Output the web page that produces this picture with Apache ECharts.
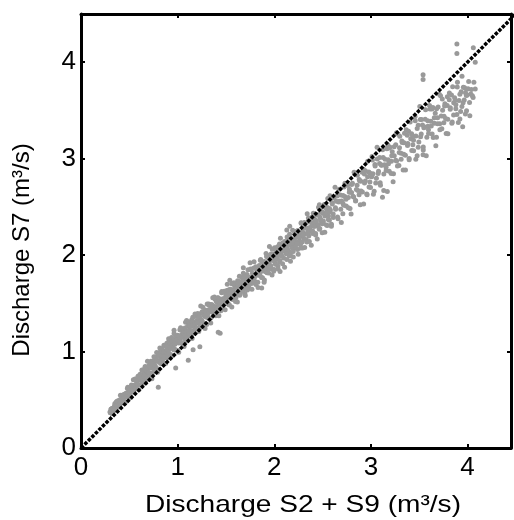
<!DOCTYPE html>
<html>
<head>
<meta charset="utf-8">
<script src="https://cdn.jsdelivr.net/npm/echarts@6/dist/echarts.min.js"></script>
<style>html,body{margin:0;padding:0;background:#fff;}#c{width:514px;height:520px;}</style>
</head>
<body>
<div id="c"></div>
<script>
// Axis ticks and titles
const xTicks = [0, 1, 2, 3, 4];
const yTicks = [0, 1, 2, 3, 4];
const xTitle = 'Discharge S2 + S9 (m\u00b3/s)';
const yTitle = 'Discharge S7 (m\u00b3/s)';
// 1:1 reference line
const oneToOne = [[0, 0], [4.5, 4.5]];

// [S2+S9 discharge, S7 discharge] pairs
const lowFlow = [
[0.300,0.374],[0.308,0.365],[0.313,0.405],[0.323,0.392],[0.329,0.413],[0.338,0.385],[0.345,0.422],[0.349,0.443],[0.360,0.425],[0.366,0.480],
[0.375,0.428],[0.380,0.467],[0.385,0.459],[0.395,0.494],[0.401,0.436],[0.410,0.503],[0.417,0.479],[0.421,0.540],[0.432,0.513],[0.438,0.552],
[0.447,0.491],[0.452,0.544],[0.462,0.566],[0.468,0.539],[0.477,0.530],[0.484,0.630],[0.488,0.577],[0.499,0.527],[0.505,0.620],[0.514,0.579],
[0.522,0.652],[0.527,0.611],[0.537,0.647],[0.543,0.579],[0.552,0.651],[0.559,0.715],[0.563,0.622],[0.574,0.668],[0.580,0.660],[0.589,0.741],
[0.597,0.703],[0.602,0.657],[0.612,0.765],[0.618,0.707],[0.627,0.752],[0.634,0.664],[0.638,0.740],[0.649,0.792],[0.655,0.727],[0.664,0.845],
[0.672,0.718],[0.677,0.795],[0.687,0.775],[0.693,0.832],[0.702,0.711],[0.709,0.834],[0.713,0.778],[0.724,0.899],[0.730,0.831],[0.739,0.900],
[0.746,0.784],[0.750,0.871],[0.761,0.902],[0.767,0.854],[0.776,0.832],[0.783,0.990],[0.787,0.904],[0.798,0.819],[0.804,0.960],[0.813,0.892],
[0.821,0.998],[0.826,0.933],[0.836,0.981],[0.842,0.880],[0.851,0.979],[0.858,1.066],[0.862,0.933],[0.873,0.992],[0.879,0.979],[0.888,1.086],
[0.896,1.030],[0.901,0.967],[0.911,1.107],[0.917,1.027],[0.926,1.083],[0.933,0.967],[0.937,1.063],[0.948,1.126],[0.954,1.042],[0.963,1.186],
[0.971,1.025],[0.976,1.119],[0.986,1.093],[0.992,1.159],[1.001,1.012],[1.008,1.156],[1.012,1.088],[1.023,1.226],[1.029,1.144],[1.038,1.220],
[1.045,1.084],[1.049,1.182],[1.060,1.214],[1.066,1.156],[1.075,1.130],[1.082,1.304],[1.086,1.205],[1.097,1.110],[1.103,1.263],[1.112,1.186],
[1.120,1.298],[1.125,1.227],[1.135,1.274],[1.141,1.167],[1.150,1.268],[1.157,1.356],[1.161,1.218],[1.172,1.277],[1.178,1.262],[1.187,1.367],
[1.195,1.310]
];
const lowFlowB = [
[0.304,0.366],[0.310,0.401],[0.321,0.359],[0.325,0.413],[0.334,0.409],[0.341,0.388],[0.351,0.462],[0.356,0.416],[0.362,0.447],[0.373,0.449],
[0.377,0.488],[0.386,0.422],[0.393,0.488],[0.403,0.458],[0.408,0.547],[0.417,0.490],[0.428,0.539],[0.432,0.469],[0.441,0.529],[0.448,0.554],
[0.458,0.471],[0.463,0.562],[0.469,0.533],[0.480,0.618],[0.484,0.562],[0.493,0.619],[0.500,0.541],[0.510,0.607],[0.516,0.526],[0.525,0.647],
[0.532,0.604],[0.542,0.707],[0.547,0.595],[0.553,0.643],[0.564,0.711],[0.568,0.629],[0.577,0.697],[0.584,0.655],[0.595,0.746],[0.599,0.604],
[0.608,0.742],[0.615,0.715],[0.625,0.657],[0.630,0.810],[0.636,0.696],[0.647,0.763],[0.651,0.747],[0.660,0.828],[0.667,0.677],[0.677,0.809],
[0.682,0.733],[0.688,0.900],[0.699,0.785],[0.703,0.857],[0.712,0.733],[0.719,0.832],[0.729,0.874],[0.734,0.719],[0.740,0.870],[0.751,0.825],
[0.755,0.947],[0.764,0.861],[0.771,0.943],[0.781,0.821],[0.786,0.912],[0.792,0.786],[0.803,0.963],[0.807,0.895],[0.816,1.037],[0.823,0.876],
[0.833,0.946],[0.838,1.030],[0.844,0.916],[0.855,1.007],[0.859,0.946],[0.868,1.058],[0.875,0.876],[0.885,1.055],[0.890,1.015],[0.896,0.933],
[0.907,1.134],[0.911,0.983],[0.920,1.064],[0.927,1.044],[0.937,1.145],[0.942,0.953],[0.948,1.108],[0.959,1.020],[0.963,1.220],[0.972,1.075],
[0.979,1.164],[0.989,1.014],[0.994,1.127],[1.000,1.169],[1.011,0.993],[1.015,1.164],[1.024,1.106],[1.031,1.246],[1.041,1.147],[1.046,1.233],
[1.052,1.092],[1.063,1.196],[1.067,1.053],[1.076,1.243],[1.083,1.171],[1.093,1.321],[1.098,1.145],[1.104,1.214],[1.115,1.306],[1.119,1.182],
[1.128,1.272],[1.135,1.212],[1.145,1.326],[1.150,1.135],[1.156,1.312],[1.167,1.276],[1.171,1.190],[1.180,1.389],[1.187,1.240],[1.197,1.321]
];
const midFlow = [
[1.200,1.246],[1.210,1.385],[1.216,1.304],[1.225,1.360],[1.232,1.243],[1.236,1.338],[1.247,1.400],[1.253,1.316],[1.262,1.459],
[1.270,1.297],[1.275,1.391],[1.285,1.364],[1.291,1.429],[1.300,1.281],[1.307,1.425],[1.311,1.356],[1.322,1.493],[1.328,1.410],[1.337,1.486],
[1.344,1.348],[1.348,1.446],[1.359,1.477],[1.365,1.419],[1.374,1.391],[1.381,1.565],[1.385,1.466],[1.396,1.370],[1.402,1.522],[1.411,1.444],
[1.419,1.555],[1.424,1.483],[1.434,1.529],[1.440,1.422],[1.449,1.522],[1.456,1.610],[1.460,1.471],[1.471,1.529],[1.477,1.514],[1.486,1.618],
[1.494,1.559],[1.499,1.495],[1.509,1.633],[1.515,1.552],[1.524,1.606],[1.531,1.489],[1.535,1.584],[1.546,1.645],[1.552,1.560],[1.561,1.702],
[1.569,1.539],[1.574,1.632],[1.584,1.604],[1.590,1.669],[1.599,1.520],[1.606,1.664],[1.610,1.594],[1.621,1.734],[1.627,1.650],[1.636,1.727],
[1.643,1.585],[1.647,1.687],[1.658,1.718],[1.664,1.657],[1.673,1.627],[1.680,1.812],[1.684,1.706],[1.695,1.601],[1.701,1.766],[1.710,1.680],
[1.718,1.799],[1.723,1.722],[1.733,1.771],[1.739,1.654],[1.748,1.762],[1.755,1.857],[1.759,1.706],[1.770,1.769],[1.776,1.751],[1.785,1.864],
[1.793,1.800],[1.798,1.730],[1.808,1.879],[1.814,1.791],[1.823,1.849],[1.830,1.718],[1.834,1.824],[1.845,1.891],[1.851,1.795],[1.860,1.955],
[1.868,1.769],[1.873,1.874],[1.883,1.841],[1.889,1.915],[1.898,1.741],[1.905,1.908],[1.909,1.827],[1.920,1.985],[1.926,1.888],[1.935,1.975],
[1.942,1.814],[1.946,1.928],[1.957,1.962],[1.963,1.893],[1.972,1.861],[1.979,2.062],[1.983,1.946],[1.994,1.832],[2.000,2.009],[2.009,1.917],
[2.017,2.047],[2.022,1.963],[2.032,2.018],[2.038,1.888],[2.047,2.008],[2.054,2.114],[2.058,1.945],[2.069,2.015],[2.075,1.996],[2.084,2.124],
[2.092,2.051],[2.097,1.970],[2.107,2.140],[2.113,2.038],[2.122,2.104],[2.129,1.955],[2.133,2.074],[2.144,2.147],[2.150,2.040],[2.159,2.216],
[2.167,2.011],[2.172,2.126],[2.182,2.089],[2.188,2.169],[2.197,1.981],[2.204,2.160],[2.208,2.073],[2.219,2.245],[2.225,2.140],[2.234,2.235],
[2.241,2.058],[2.245,2.184],[2.256,2.221],[2.262,2.146],[2.271,2.109],[2.278,2.335],[2.282,2.205],[2.293,2.075],[2.299,2.276],[2.308,2.171],
[2.316,2.317],[2.321,2.221],[2.331,2.281],[2.337,2.136],[2.346,2.269],[2.353,2.384],[2.357,2.199],[2.368,2.274],[2.374,2.253],[2.383,2.391],
[2.391,2.311],[2.396,2.224],[2.406,2.406],[2.412,2.298],[2.421,2.369],[2.428,2.208],[2.432,2.337],[2.443,2.418],[2.449,2.299],[2.458,2.495],
[2.466,2.267],[2.471,2.396],[2.481,2.355],[2.487,2.444],[2.496,2.231],[2.503,2.433],[2.507,2.334],[2.518,2.526],[2.524,2.406],[2.533,2.511],
[2.540,2.311],[2.544,2.451],[2.555,2.492],[2.561,2.406],[2.570,2.361],[2.577,2.616],[2.581,2.467],[2.592,2.319],[2.598,2.544]
];
const midFlowB = [
[1.202,1.299],[1.208,1.395],[1.219,1.208],[1.223,1.361],[1.232,1.270],[1.239,1.472],[1.249,1.327],[1.254,1.414],[1.260,1.259],[1.271,1.377],
[1.275,1.417],[1.284,1.239],[1.291,1.412],[1.301,1.355],[1.306,1.493],[1.312,1.390],[1.323,1.480],[1.327,1.337],[1.336,1.438],[1.343,1.297],
[1.353,1.487],[1.358,1.412],[1.364,1.558],[1.375,1.387],[1.379,1.453],[1.388,1.542],[1.395,1.421],[1.405,1.511],[1.410,1.448],[1.416,1.558],
[1.427,1.372],[1.431,1.547],[1.440,1.508],[1.447,1.424],[1.457,1.623],[1.462,1.472],[1.468,1.548],[1.479,1.530],[1.483,1.624],[1.492,1.434],
[1.499,1.589],[1.509,1.498],[1.514,1.698],[1.520,1.549],[1.531,1.640],[1.535,1.483],[1.544,1.598],[1.551,1.640],[1.561,1.462],[1.566,1.633],
[1.572,1.572],[1.583,1.714],[1.587,1.610],[1.596,1.699],[1.603,1.557],[1.613,1.659],[1.618,1.515],[1.624,1.705],[1.635,1.633],[1.639,1.782],
[1.648,1.602],[1.655,1.674],[1.665,1.769],[1.670,1.639],[1.676,1.731],[1.687,1.668],[1.691,1.784],[1.700,1.581],[1.707,1.772],[1.717,1.730],
[1.722,1.637],[1.728,1.847],[1.739,1.690],[1.743,1.771],[1.752,1.749],[1.759,1.852],[1.769,1.646],[1.774,1.813],[1.780,1.710],[1.791,1.931],
[1.795,1.767],[1.804,1.864],[1.811,1.695],[1.821,1.821],[1.826,1.865],[1.832,1.664],[1.843,1.858],[1.847,1.788],[1.856,1.946],[1.863,1.829],
[1.873,1.931],[1.878,1.766],[1.884,1.879],[1.895,1.719],[1.899,1.933],[1.908,1.847],[1.915,2.018],[1.925,1.816],[1.930,1.894],[1.936,1.995],
[1.947,1.856],[1.951,1.955],[1.960,1.883],[1.967,2.011],[1.977,1.793],[1.982,1.996],[1.988,1.947],[1.999,1.852],[2.003,2.077],[2.012,1.905],
[2.019,1.996],[2.029,1.973],[2.034,2.086],[2.040,1.855],[2.051,2.045],[2.055,1.928],[2.064,2.175],[2.071,1.993],[2.081,2.103],[2.086,1.910],
[2.092,2.049],[2.103,2.103],[2.107,1.875],[2.116,2.091],[2.123,2.013],[2.133,2.188],[2.138,2.057],[2.144,2.165],[2.155,1.990],[2.159,2.110],
[2.168,1.936],[2.175,2.168],[2.185,2.077],[2.190,2.258],[2.196,2.038],[2.207,2.126],[2.211,2.233],[2.220,2.082],[2.227,2.192],[2.237,2.114],
[2.242,2.254],[2.248,2.009],[2.259,2.240],[2.263,2.185],[2.272,2.075],[2.279,2.331],[2.289,2.137],[2.294,2.237],[2.300,2.206],[2.311,2.337],
[2.315,2.078],[2.324,2.286],[2.331,2.159],[2.341,2.429],[2.346,2.228],[2.352,2.343],[2.363,2.140],[2.367,2.287],[2.376,2.343],[2.383,2.103],
[2.393,2.334],[2.398,2.250],[2.404,2.435],[2.415,2.300],[2.419,2.414],[2.428,2.224],[2.435,2.357],[2.445,2.168],[2.450,2.420],[2.456,2.316],
[2.467,2.522],[2.471,2.276],[2.480,2.372],[2.487,2.493],[2.497,2.324],[2.502,2.445],[2.508,2.353],[2.519,2.512],[2.523,2.236],[2.532,2.491],
[2.539,2.429],[2.549,2.307],[2.554,2.588],[2.560,2.368],[2.571,2.483],[2.575,2.446],[2.584,2.588],[2.591,2.300],[2.601,2.531]
];
const highFlow = [
[2.610,2.427],[2.618,2.592],[2.633,2.491],[2.642,2.558],[2.655,2.395],[2.666,2.550],[2.672,2.683],[2.688,2.475],[2.697,2.561],
[2.710,2.539],[2.722,2.705],[2.730,2.607],[2.745,2.508],[2.754,2.726],[2.767,2.598],[2.778,2.683],[2.784,2.484],[2.800,2.650],
[2.809,2.744],[2.822,2.603],[2.834,2.842],[2.842,2.562],[2.857,2.725],[2.866,2.670],[2.879,2.784],[2.890,2.522],[2.896,2.767],
[2.912,2.655],[2.921,2.890],[2.934,2.747],[2.942,2.876],[2.957,2.633],[2.966,2.812],[2.979,2.863],[2.990,2.759],[2.996,2.700],
[3.012,3.023],[3.021,2.844],[3.034,2.663],[3.042,2.940],[3.057,2.797],[3.066,2.997],[3.079,2.870],[3.090,2.950],[3.096,2.749],
[3.112,2.934],[3.121,3.092],[3.134,2.840],[3.142,2.938],[3.157,2.912],[3.166,3.103],[3.179,2.990],[3.190,2.869],[3.196,3.122],
[3.212,2.973],[3.221,3.071],[3.234,2.843],[3.242,3.030],[3.257,3.144],[3.266,2.975],[3.279,3.256],[3.290,2.930],[3.296,3.112],
[3.312,3.055],[3.321,3.183],[3.334,2.883],[3.342,3.166],[3.357,3.035],[3.366,3.299],[3.379,3.136],[3.390,3.283],[3.396,3.002],
[3.412,3.207],[3.421,3.259],[3.434,3.145],[3.442,3.081],[3.457,3.437],[3.466,3.236],[3.479,3.030],[3.490,3.346],[3.496,3.174],
[3.512,3.406],[3.521,3.256],[3.534,3.348],[3.542,3.120],[3.557,3.329],[3.566,3.507],[3.579,3.223],[3.590,3.336],[3.596,3.299],
[3.612,3.515],[3.621,3.387],[3.634,3.255],[3.642,3.531],[3.657,3.366],[3.666,3.470],[3.679,3.223],[3.690,3.425],[3.696,3.537],
[3.712,3.363],[3.721,3.652],[3.734,3.310],[3.742,3.501],[3.757,3.439],[3.766,3.569],[3.779,3.260],[3.790,3.551],[3.796,3.409],
[3.812,3.680],[3.821,3.512],[3.834,3.659],[3.842,3.380],[3.857,3.581],[3.866,3.631],[3.879,3.518],[3.890,3.459],[3.896,3.793],
[3.912,3.603],[3.921,3.410],[3.934,3.695],[3.942,3.542],[3.957,3.740],[3.966,3.609],[3.979,3.683],[3.990,3.496],[3.996,3.661],
[4.012,3.799],[4.021,3.582],[4.034,3.671],[4.050,3.652],[4.066,3.792],[4.080,3.722]
];
const highFlowB = [
[2.611,2.391],[2.629,2.704],[2.635,2.476],[2.649,2.614],[2.660,2.377],[2.676,2.558],[2.684,2.623],[2.694,2.339],[2.712,2.618],[2.718,2.517],
[2.732,2.744],[2.743,2.578],[2.759,2.725],[2.767,2.491],[2.777,2.653],[2.795,2.426],[2.801,2.732],[2.815,2.611],[2.826,2.858],[2.842,2.566],
[2.850,2.680],[2.860,2.829],[2.878,2.625],[2.884,2.772],[2.898,2.665],[2.909,2.860],[2.925,2.531],[2.933,2.842],[2.943,2.769],[2.961,2.625],
[2.967,2.972],[2.981,2.707],[2.992,2.848],[3.008,2.812],[3.016,2.985],[3.026,2.632],[3.044,2.924],[3.050,2.747],[3.064,3.119],[3.075,2.846],
[3.091,3.011],[3.099,2.725],[3.109,2.931],[3.127,3.013],[3.133,2.671],[3.147,2.995],[3.158,2.878],[3.174,3.145],[3.182,2.947],[3.192,3.111],
[3.210,2.845],[3.216,3.030],[3.230,2.761],[3.241,3.124],[3.257,2.983],[3.265,3.269],[3.275,2.923],[3.293,3.064],[3.299,3.233],[3.313,2.993],
[3.324,3.167],[3.340,3.046],[3.348,3.263],[3.358,2.883],[3.376,3.242],[3.382,3.156],[3.396,2.989],[3.407,3.380],[3.423,3.085],[3.431,3.238],
[3.441,3.191],[3.459,3.393],[3.465,2.994],[3.479,3.314],[3.490,3.118],[3.506,3.540],[3.514,3.227],[3.524,3.407],[3.542,3.090],[3.548,3.320],
[3.562,3.408],[3.573,3.031],[3.589,3.393],[3.597,3.262],[3.607,3.550],[3.625,3.339],[3.631,3.515],[3.645,3.220],[3.656,3.424],[3.672,3.134],
[3.680,3.518],[3.690,3.361],[3.708,3.668],[3.714,3.300],[3.728,3.442],[3.739,3.619],[3.755,3.373],[3.763,3.546],[3.773,3.417],[3.791,3.643],
[3.797,3.259],[3.811,3.612],[3.822,3.529],[3.838,3.366],[3.846,3.746],[3.856,3.452],[3.874,3.606],[3.880,3.558],[3.894,3.744],[3.905,3.375],
[3.921,3.668],[3.929,3.488],[3.943,3.854],[3.954,3.581],[3.970,3.735],[3.978,3.463],[3.988,3.655],[4.006,3.725],[4.024,3.444],[4.040,3.717],
[4.058,3.635]
];
const outliers = [
[3.89,4.19],[3.89,4.09],[4.06,4.15],[4.08,4.00],[3.54,3.87],[3.54,3.82],[3.54,3.04],[3.12,2.60],[2.71,2.43],
[3.17,2.66],[2.13,2.26],[1.54,1.74],[1.68,1.87],[1.75,1.92],[1.95,2.09],[2.16,2.30],[1.44,1.19],[1.87,1.66],
[2.06,1.83],[0.80,0.63],[0.98,0.83],[1.11,0.91],[1.16,1.02],[1.23,1.05],[1.42,1.20],[3.95,3.33],[3.99,3.72]
];
const scatterData = lowFlow.concat(lowFlowB, midFlow, midFlowB, highFlow, highFlowB, outliers);

const font = "'Liberation Sans', Arial, Helvetica, sans-serif";
const chart = echarts.init(document.getElementById('c'), null, {renderer: 'canvas'});
const axisLineStyle = {color: '#000', width: 3};
const tickStyle = {show: true, inside: true, length: 4, lineStyle: {color: '#000', width: 2}};
chart.setOption({
  animation: false,
  backgroundColor: '#fff',
  grid: {left: 81, top: 14, width: 431, height: 434, containLabel: false},
  xAxis: [
    {type: 'value', min: 0, max: 4.45, interval: 1, position: 'bottom',
     axisLine: {show: true, onZero: false, lineStyle: axisLineStyle}, axisTick: tickStyle,
     axisLabel: {show: true, margin: 7, color: '#000', fontSize: 26, fontFamily: font,
       formatter: v => xTicks.indexOf(v) >= 0 ? String(v) : ''},
     splitLine: {show: false}},
    {type: 'value', min: 0, max: 4.45, interval: 1, position: 'top',
     axisLine: {show: true, onZero: false, lineStyle: axisLineStyle}, axisTick: tickStyle,
     axisLabel: {show: false}, splitLine: {show: false}}
  ],
  yAxis: [
    {type: 'value', min: 0, max: 4.5, interval: 1, position: 'left',
     axisLine: {show: true, onZero: false, lineStyle: axisLineStyle}, axisTick: tickStyle,
     axisLabel: {show: true, margin: 5, color: '#000', fontSize: 26, fontFamily: font,
       formatter: v => yTicks.indexOf(v) >= 0 ? String(v) : ''},
     splitLine: {show: false}},
    {type: 'value', min: 0, max: 4.5, interval: 1, position: 'right',
     axisLine: {show: true, onZero: false, lineStyle: axisLineStyle}, axisTick: tickStyle,
     axisLabel: {show: false}, splitLine: {show: false}}
  ],
  graphic: [
    {type: 'text', x: 303, y: 505, scaleX: 1.17, style: {text: xTitle, fontSize: 24, fontFamily: font, fill: '#000',
      x: 0, y: 0, textAlign: 'center', textVerticalAlign: 'middle'}},
    {type: 'text', x: 22, y: 250, rotation: Math.PI / 2, style: {text: yTitle, fontSize: 24, fontFamily: font, fill: '#000',
      x: 0, y: 0, textAlign: 'center', textVerticalAlign: 'middle'}}
  ],
  series: [
    {type: 'scatter', data: scatterData, symbol: 'circle', symbolSize: 5,
     itemStyle: {color: '#999999', opacity: 1}, xAxisIndex: 0, yAxisIndex: 0, z: 2, silent: true},
    {type: 'line', data: oneToOne, showSymbol: false, symbol: 'none', clip: true,
     lineStyle: {color: '#000', width: 3.5, type: [3.5, 1.5]}, xAxisIndex: 0, yAxisIndex: 0, z: 5, silent: true}
  ]
});
</script>
</body>
</html>
